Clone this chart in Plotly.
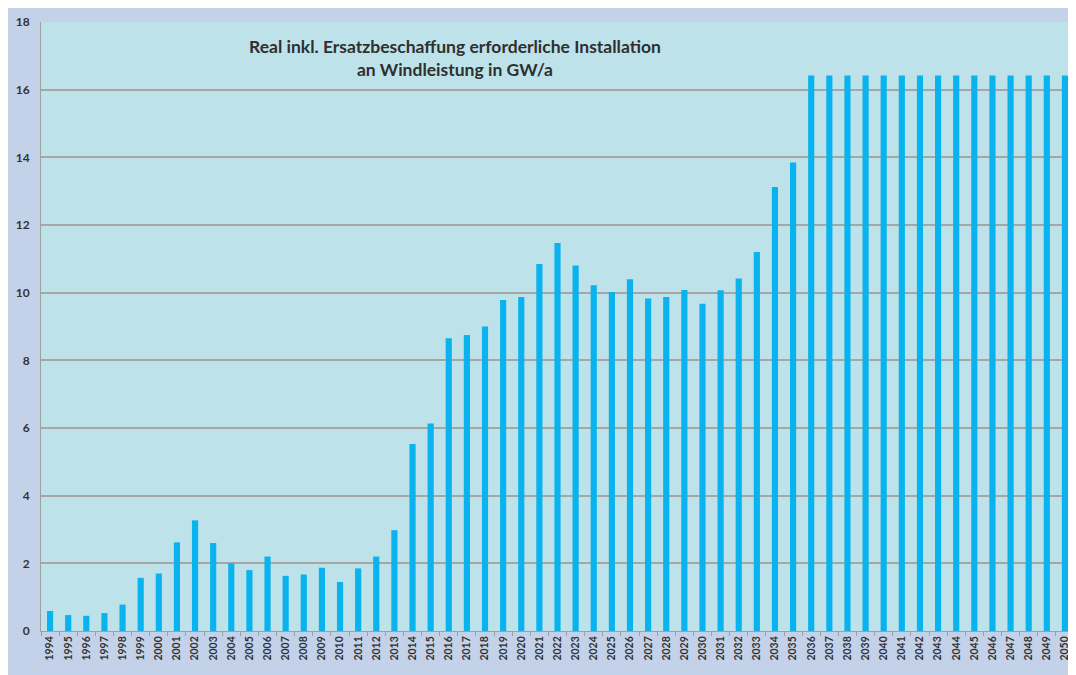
import plotly.graph_objects as go

years = [str(y) for y in range(1994, 2051)]
values = [0.59, 0.47, 0.45, 0.53, 0.78, 1.57, 1.70, 2.62, 3.27, 2.60,
          2.00, 1.80, 2.20, 1.63, 1.67, 1.87, 1.45, 1.85, 2.20, 2.98,
          5.53, 6.13, 8.65, 8.75, 9.00, 9.78, 9.87, 10.85, 11.47, 10.80,
          10.22, 10.02, 10.40, 9.83, 9.87, 10.08, 9.67, 10.07, 10.42, 11.20,
          13.12, 13.85] + [16.42] * 15
title_lines = ["Real inkl. Ersatzbeschaffung erforderliche Installation",
               "an Windleistung in GW/a"]
y_ticks = list(range(0, 19, 2))

fig = go.Figure(go.Bar(x=years, y=values, marker=dict(color="#0ab2ee", line=dict(width=0)),
                       hoverinfo="x+y"))

fig.update_layout(
    width=1068, height=667,
    margin=dict(l=33, r=2, t=14, b=44),
    paper_bgcolor="#c3d2e9",
    plot_bgcolor="#bde2ea",
    bargap=0.66,
    showlegend=False,
    font=dict(family="Lato, Open Sans, sans-serif", color="#333333"),
    annotations=[dict(text="<b>" + title_lines[0] + "<br>" + title_lines[1] + "</b>",
                      x=0.401, y=0.98, xref="paper", yref="paper",
                      xanchor="center", yanchor="top", showarrow=False,
                      font=dict(size=17.5, color="#2f2f2f", family="Lato, sans-serif"))],
)
fig.update_yaxes(range=[0, 18], tickvals=y_ticks, showgrid=True, gridcolor="#a6a6a6", gridwidth=2,
                 zeroline=False, showline=True, linecolor="#a0a0a0",
                 tickfont=dict(size=12, color="#333333", family="Lato, sans-serif", weight="bold"),
                 ticklabelstandoff=8)
fig.update_xaxes(tickangle=-90,
                 tickfont=dict(size=10.5, color="#333333", family="Lato, sans-serif", weight="bold"),
                 showline=True, linecolor="#a0a0a0", ticks="outside", tickson="boundaries",
                 ticklen=4, tickcolor="#a0a0a0", range=[-0.5, len(years) - 0.5])

fig.write_html("out.html")
